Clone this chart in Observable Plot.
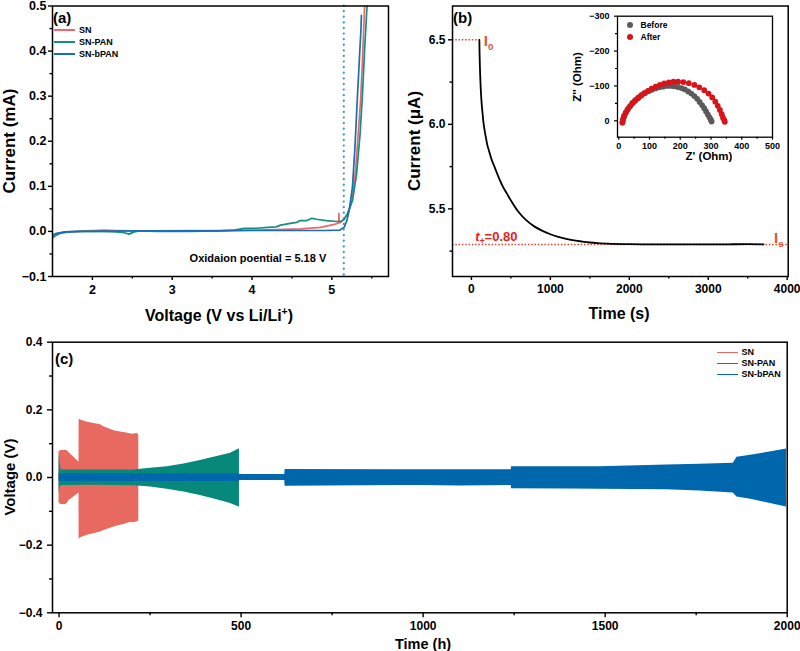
<!DOCTYPE html>
<html><head><meta charset="utf-8">
<script src="https://cdn.jsdelivr.net/npm/d3@7"></script>
<script src="https://cdn.jsdelivr.net/npm/@observablehq/plot@0.6"></script>
<style>
body{margin:0;background:#fff;font-family:"Liberation Sans",Arial,sans-serif;}
#root{position:relative;width:800px;height:651px;overflow:hidden;background:#fff;}
.lbl{position:absolute;font-weight:bold;white-space:nowrap;line-height:1;}
.lbl sub,.lbl sup{font-size:65%;line-height:0;}
</style></head><body><div id="root"></div>
<script>
// ---------- Panel (a): LSV ----------
const lsvSeries = ["SN", "SN-PAN", "SN-bPAN"];
const lsvColors = ["#F2666B", "#11917F", "#1B6DB5"];
const snV = [1.5, 1.53, 1.58, 1.65, 1.75, 1.9, 2.0, 2.15, 2.3, 2.5, 2.8, 3.2, 3.6, 4.0, 4.3, 4.61, 4.86, 5.03, 5.086, 5.089, 5.092, 5.1, 5.11, 5.15, 5.196, 5.23, 5.26, 5.30, 5.33, 5.36, 5.38, 5.40, 5.415];
const snI = [-0.013, -0.008, -0.004, -0.002, -0.001, 0.001, 0.002, 0.003, 0.002, 0.001, 0.001, 0.002, 0.002, 0.003, 0.004, 0.0055, 0.009, 0.0155, 0.019, 0.04, 0.02, 0.019, 0.02, 0.027, 0.039, 0.055, 0.076, 0.142, 0.216, 0.29, 0.365, 0.453, 0.52];
const panV = [1.5, 1.53, 1.6, 1.7, 1.9, 2.1, 2.3, 2.4, 2.46, 2.52, 2.6, 2.8, 3.2, 3.6, 3.78, 3.9, 4.05, 4.2, 4.3, 4.36, 4.48, 4.56, 4.6, 4.69, 4.75, 4.81, 4.93, 5.06, 5.11, 5.15, 5.196, 5.26, 5.31, 5.354, 5.384, 5.41, 5.44, 5.46];
const panI = [-0.015, -0.01, -0.004, -0.001, 0.0, 0.0, -0.001, -0.003, -0.006, -0.001, 0.001, 0.0, 0.0, 0.001, 0.003, 0.0067, 0.007, 0.009, 0.01, 0.014, 0.018, 0.02, 0.024, 0.024, 0.029, 0.027, 0.024, 0.022, 0.022, 0.026, 0.039, 0.069, 0.127, 0.216, 0.305, 0.401, 0.497, 0.53];
const bpanLsvV = [1.5, 1.55, 1.65, 1.8, 2.0, 2.5, 3.0, 3.5, 4.0, 4.5, 4.9, 5.1, 5.154, 5.19, 5.217, 5.258, 5.2875, 5.3125, 5.34, 5.366, 5.37];
const bpanLsvI = [-0.008, -0.004, -0.001, 0.0, 0.0, 0.001, 0.001, 0.001, 0.002, 0.002, 0.002, 0.003, 0.009, 0.025, 0.046, 0.098, 0.18, 0.27, 0.365, 0.453, 0.479];
const oxPotential = 5.15;
const oxLabel = "Oxidaion poential = 5.18 V";
const oxLabelV = 4.93, oxLabelI = -0.061;
const aXDomain = [1.5, 5.71], aYDomain = [-0.1, 0.5];
const aXMajor = [2, 3, 4, 5], aXMinor = [2.5, 3.5, 4.5, 5.5];
const aYMajor = [-0.1, 0, 0.1, 0.2, 0.3, 0.4, 0.5];
const aYMinor = [-0.05, 0.05, 0.15, 0.25, 0.35, 0.45];

// ---------- Panel (b): chronoamperometry ----------
const caT = [100, 103, 106, 110, 115, 120, 130, 140, 150, 165, 180, 200, 225, 250, 300, 350, 400, 450, 500, 600, 700, 800, 900, 1000, 1100, 1200, 1300, 1400, 1500, 1600, 1800, 2000, 2500, 3000, 3500, 3700];
const caI = [6.50, 6.42, 6.36, 6.30, 6.24, 6.19, 6.12, 6.07, 6.02, 5.97, 5.93, 5.88, 5.84, 5.80, 5.74, 5.68, 5.63, 5.59, 5.55, 5.48, 5.43, 5.395, 5.37, 5.35, 5.335, 5.323, 5.314, 5.307, 5.301, 5.297, 5.293, 5.291, 5.29, 5.29, 5.291, 5.29];
const I0 = 6.5, Is = 5.29, T0 = 100;
const tPlusLabel = "0.80";
const bXDomain = [-240, 4013], bYDomain = [5.1, 6.7];
const bXMajor = [0, 1000, 2000, 3000, 4000], bXMinor = [500, 1500, 2500, 3500];
const bYMajor = [5.5, 6.0, 6.5], bYMinor = [5.25, 5.75, 6.25];

// ---------- Inset: Nyquist ----------
const beforeZr = [12, 14, 18, 24, 30, 38, 46, 55, 65, 75, 86, 97, 108, 120, 132, 144, 156, 168, 180, 192, 204, 215, 226, 236, 246, 255, 263, 271, 278, 284, 290, 295, 299, 302];
const beforeZi = [5, -5, -15, -25, -34, -43, -52, -60, -67, -74, -80, -85, -89, -93, -96, -98, -100, -100, -99, -97, -94, -90, -84, -78, -71, -63, -54, -45, -36, -27, -18, -10, -4, 2];
const afterZr = [12, 14, 17, 22, 28, 35, 43, 52, 62, 72, 83, 95, 107, 120, 134, 148, 163, 178, 193, 210, 228, 246, 262, 278, 292, 304, 314, 322, 329, 335, 339, 343, 345];
const afterZi = [5, -3, -12, -22, -31, -40, -49, -57, -65, -72, -79, -86, -92, -98, -103, -107, -110, -112, -112, -111, -108, -103, -96, -88, -78, -67, -55, -43, -31, -19, -9, -2, 3];
const eisSeries = ["Before", "After"];
const eisColors = ["#5B5B5B", "#D91418"];
const iXDomain = [-4, 500], iYDomain = [47, -300];
const iXMajor = [0, 100, 200, 300, 400, 500], iXMinor = [50, 150, 250, 350, 450];
const iYMajor = [-300, -200, -100, 0], iYMinor = [-250, -150, -50];

// ---------- Panel (c): cycling (envelopes of voltage band) ----------
const cycSeries = ["SN", "SN-PAN", "SN-bPAN"];
const cycColors = ["#E8695F", "#06897B", "#0067AC"];
const snT  = [0, 5, 18, 23, 27, 35, 46, 52, 54.8, 55, 59, 78, 100, 114, 123, 135, 151, 165, 178, 192, 201, 210, 215, 219];
const snHi = [0.076, 0.080, 0.080, 0.079, 0.074, 0.066, 0.055, 0.048, 0.046, 0.172, 0.17, 0.163, 0.159, 0.156, 0.150, 0.145, 0.138, 0.135, 0.133, 0.130, 0.128, 0.129, 0.130, 0.125];
const snLo = [-0.075, -0.080, -0.080, -0.076, -0.068, -0.062, -0.053, -0.048, -0.046, -0.183, -0.178, -0.171, -0.165, -0.161, -0.157, -0.152, -0.146, -0.142, -0.139, -0.134, -0.133, -0.132, -0.131, -0.128];
const panT  = [0, 1, 2.7, 6.4, 100, 205, 251, 297, 343, 388, 434, 471, 494, 495.5];
const panHi = [0.05, 0.072, 0.04, 0.0225, 0.022, 0.0225, 0.027, 0.032, 0.040, 0.050, 0.062, 0.072, 0.084, 0.084];
const panLo = [-0.03, -0.048, -0.028, -0.0235, -0.023, -0.0245, -0.028, -0.035, -0.043, -0.053, -0.066, -0.077, -0.087, -0.087];
const bpanT  = [0, 494, 494.5, 620, 621, 937, 1000, 1100, 1242, 1243, 1400, 1486, 1669, 1760, 1852, 1862, 1900, 1925, 1960, 1998];
const bpanHi = [0.011, 0.011, 0.009, 0.009, 0.0235, 0.0226, 0.0226, 0.023, 0.0226, 0.032, 0.032, 0.032, 0.037, 0.039, 0.042, 0.060, 0.066, 0.070, 0.077, 0.084];
const bpanLo = [-0.012, -0.012, -0.009, -0.009, -0.0255, -0.0235, -0.024, -0.025, -0.0235, -0.033, -0.034, -0.035, -0.036, -0.040, -0.046, -0.058, -0.064, -0.070, -0.078, -0.087];
const cXDomain = [-18, 2000], cYDomain = [-0.4, 0.4];
const cXMajor = [0, 500, 1000, 1500, 2000], cXMinor = [250, 750, 1250, 1750];
const cYMajor = [-0.4, -0.2, 0, 0.2, 0.4], cYMinor = [-0.3, -0.1, 0.1, 0.3];

// ================= drawing =================
const FONT = '"Liberation Sans", Arial, Helvetica, sans-serif';
const root = document.getElementById("root");
const style = (fs) => ({fontFamily: FONT, fontWeight: "bold", fontSize: fs + "px", color: "#000", background: "transparent", overflow: "visible"});

function place(svg, left, top) {
  svg.style.position = "absolute";
  svg.style.left = left + "px";
  svg.style.top = top + "px";
  root.appendChild(svg);
  return svg;
}
function label(html, x, y, o = {}) {
  const d = document.createElement("div");
  d.className = "lbl";
  d.innerHTML = html;
  d.style.left = x + "px";
  d.style.top = y + "px";
  d.style.fontSize = (o.size || 12) + "px";
  if (o.color) d.style.color = o.color;
  const tx = o.anchor === "middle" ? "-50%" : o.anchor === "end" ? "-100%" : "0";
  d.style.transform = `translate(${tx},-50%)` + (o.rotate ? ` rotate(${o.rotate}deg)` : "");
  root.appendChild(d);
  return d;
}
function legendLine(x1, x2, y, color, w) {
  const d = document.createElement("div");
  d.style.cssText = `position:absolute;left:${x1}px;top:${y - w / 2}px;width:${x2 - x1}px;height:${w}px;background:${color};`;
  root.appendChild(d);
}
function legendDot(x, y, r, color) {
  const d = document.createElement("div");
  d.style.cssText = `position:absolute;left:${x - r}px;top:${y - r}px;width:${2 * r}px;height:${2 * r}px;border-radius:50%;background:${color};`;
  root.appendChild(d);
}
function axes(o) {
  return [
    Plot.axisX({ticks: o.xMaj, tickSize: o.ts, tickPadding: o.xp, tickFormat: o.xf, label: null, strokeWidth: o.sw}),
    Plot.axisX({ticks: o.xMin, tickSize: o.ts2, tickPadding: 0, tickFormat: () => "", label: null, strokeWidth: o.sw}),
    Plot.axisY({ticks: o.yMaj, tickSize: o.ts, tickPadding: o.yp, tickFormat: o.yf, label: null, strokeWidth: o.sw}),
    Plot.axisY({ticks: o.yMin, tickSize: o.ts2, tickPadding: 0, tickFormat: () => "", label: null, strokeWidth: o.sw})
  ];
}

// ---- (a)
const lsvData = [];
[[snV, snI], [panV, panI], [bpanLsvV, bpanLsvI]].forEach(([vs, is], k) =>
  vs.forEach((v, j) => lsvData.push({series: lsvSeries[k], v, i: is[j]})));

const chartA = Plot.plot({
  width: 400, height: 300,
  marginLeft: 52, marginRight: 12, marginTop: 5.5, marginBottom: 24,
  style: style(12.5),
  x: {domain: aXDomain},
  y: {domain: aYDomain},
  color: {domain: lsvSeries, range: lsvColors},
  marks: [
    Plot.ruleX([oxPotential], {stroke: "#3F8FD2", strokeWidth: 2.2, strokeDasharray: "0.1 5.5", strokeLinecap: "round"}),
    Plot.line(lsvData, {x: "v", y: "i", z: "series", stroke: "series", strokeWidth: 1.7, clip: true}),
    Plot.text([oxLabel], {x: () => oxLabelV, y: () => oxLabelI, text: d => d, textAnchor: "end", lineAnchor: "middle", fontSize: 11}),
    Plot.frame({stroke: "#000", strokeWidth: 1.5}),
    ...axes({xMaj: aXMajor, xMin: aXMinor, yMaj: aYMajor, yMin: aYMinor, ts: 4, ts2: 2.5, xp: 5, yp: 2,
             xf: d3.format("d"), yf: d3.format(".1f"), sw: 1.4})
  ]
});
place(chartA, 0, 0);

// ---- (b)
const caData = caT.map((t, j) => ({t, i: caI[j]}));
const chartB = Plot.plot({
  width: 400, height: 300,
  marginLeft: 52, marginRight: 12.3, marginTop: 5.5, marginBottom: 24,
  style: style(12),
  x: {domain: bXDomain},
  y: {domain: bYDomain},
  marks: [
    Plot.ruleY([I0], {x1: bXDomain[0], x2: T0, stroke: "#E8402A", strokeWidth: 1.5, strokeDasharray: "1.5 1.8"}),
    Plot.ruleY([Is], {stroke: "#E8402A", strokeWidth: 1.5, strokeDasharray: "1.5 1.8"}),
    Plot.line(caData, {x: "t", y: "i", stroke: "#000", strokeWidth: 1.8, curve: "monotone-x"}),
    Plot.frame({stroke: "#000", strokeWidth: 1.5}),
    ...axes({xMaj: bXMajor, xMin: bXMinor, yMaj: bYMajor, yMin: bYMinor, ts: 4, ts2: 2.5, xp: 4, yp: 3,
             xf: d3.format("d"), yf: d3.format(".1f"), sw: 1.4})
  ]
});
place(chartB, 400, 0);
const bx = chartB.scale("x"), by = chartB.scale("y");

// ---- inset
const eisData = [];
[[beforeZr, beforeZi], [afterZr, afterZi]].forEach(([zr, zi], k) =>
  zr.forEach((r, j) => eisData.push({series: eisSeries[k], zr: r, zi: zi[j]})));
const inset = Plot.plot({
  width: 200, height: 150,
  marginLeft: 37, marginRight: 8, marginTop: 5.7, marginBottom: 23.3,
  style: style(9),
  x: {domain: iXDomain},
  y: {domain: iYDomain},
  color: {domain: eisSeries, range: eisColors},
  marks: [
    Plot.dot(eisData, {x: "zr", y: "zi", fill: "series", r: 2.9, stroke: "none"}),
    Plot.frame({stroke: "#000", strokeWidth: 1.3}),
    ...axes({xMaj: iXMajor, xMin: iXMinor, yMaj: iYMajor, yMin: iYMinor, ts: 3, ts2: 2, xp: 2, yp: 5,
             xf: d3.format("d"), yf: d3.format("d"), sw: 1.2})
  ]
});
place(inset, 580, 10);

// ---- (c)
const mk = (ts, hi, lo) => ts.map((t, j) => ({t, hi: hi[j], lo: lo[j]}));
const chartC = Plot.plot({
  width: 800, height: 321,
  marginLeft: 52, marginRight: 13.3, marginTop: 11.7, marginBottom: 38.7,
  style: style(12),
  x: {domain: cXDomain},
  y: {domain: cYDomain},
  marks: [
    Plot.areaY(mk(snT, snHi, snLo), {x: "t", y1: "lo", y2: "hi", fill: cycColors[0]}),
    Plot.areaY(mk(panT, panHi, panLo), {x: "t", y1: "lo", y2: "hi", fill: cycColors[1]}),
    Plot.areaY(mk(bpanT, bpanHi, bpanLo), {x: "t", y1: "lo", y2: "hi", fill: cycColors[2]}),
    Plot.frame({stroke: "#000", strokeWidth: 1.5}),
    ...axes({xMaj: cXMajor, xMin: cXMinor, yMaj: cYMajor, yMin: cYMinor, ts: 5, ts2: 3, xp: 4, yp: 5,
             xf: d3.format("d"), yf: d3.format(".1f"), sw: 1.4})
  ]
});
place(chartC, 0, 330);

// ---------- text overlays ----------
label("(a)", 53, 17, {size: 15});
label("(b)", 453, 17, {size: 15});
label("(c)", 55, 358, {size: 15});
label("Current (mA)", 9, 141, {size: 17, anchor: "middle", rotate: -90});
label("Voltage (V vs Li/Li<sup>+</sup>)", 219, 316, {size: 16, anchor: "middle"});
label("Current (μA)", 414, 141, {size: 17, anchor: "middle", rotate: -90});
label("Time (s)", 619, 314, {size: 16, anchor: "middle"});
label("Voltage (V)", 9, 477, {size: 15, anchor: "middle", rotate: -90});
label("Time (h)", 423, 643.5, {size: 14.5, anchor: "middle"});
label("Z'' (Ohm)", 578, 77, {size: 11.5, anchor: "middle", rotate: -90});
label("Z' (Ohm)", 709, 157, {size: 11.5, anchor: "middle"});
lsvSeries.forEach((s, k) => {
  const y = 30 + k * 12;
  legendLine(54, 75, y, lsvColors[k], 1.8);
  label(s, 79, y, {size: 9});
});
cycSeries.forEach((s, k) => {
  const y = 352.3 + k * 11;
  legendLine(717, 738, y, cycColors[k], 1.2);
  label(s, 741.5, y, {size: 9});
});
eisSeries.forEach((s, k) => {
  const y = 25 + k * 11.7;
  legendDot(630, y, 3, eisColors[k]);
  label(s, 640.5, y, {size: 8.5});
});
label("I<sub>0</sub>", 400 + bx.apply(T0) + 5, by.apply(I0) + 1, {size: 15, color: "#E8503A"});
label("I<sub>s</sub>", 400 + bx.apply(3840), by.apply(Is) - 7, {size: 15, color: "#E8503A"});
label("<i>t</i><sub>+</sub>=" + tPlusLabel, 400 + bx.apply(55), by.apply(Is) - 8, {size: 13, color: "#E2231A"});
</script></body></html>
